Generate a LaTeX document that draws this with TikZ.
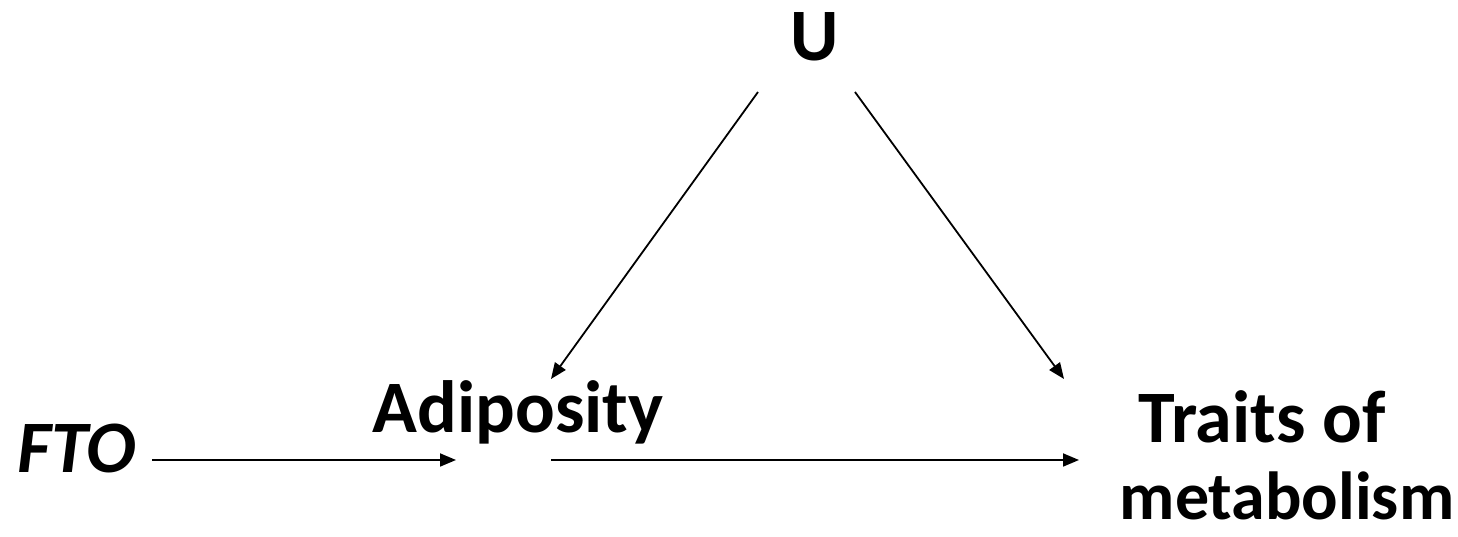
\documentclass[tikz,border=0pt]{standalone}
\usepackage{fontspec}
\setmainfont{Carlito}
\usetikzlibrary{arrows.meta}
\begin{document}
\begin{tikzpicture}[x=1pt,y=1pt,
  lbl/.style={font=\fontsize{74}{77}\selectfont\bfseries, inner sep=0pt, anchor=base, align=center},
  arr/.style={line width=1.8pt, -{Triangle[length=16pt,width=13pt]}}]
\useasboundingbox (0,0) rectangle (1458,537);
% texts (y = 537 - pixel y)
\node[lbl] (u) at (815,476) {U};
\node[lbl] (adip) at (518,104) {Adiposity};
\node[lbl] (fto) at (77,64) {\itshape FTO};
\node[lbl, anchor=base] (traits) at (1287,17) {Traits of\hspace*{50pt}\\{\fontsize{68}{77}\selectfont metabolism}};
% arrow end points
\coordinate (ftoR) at (152,77);
\coordinate (adipL) at (456,77);
\coordinate (adipR) at (551,77);
\coordinate (traitsL) at (1079,77);
\coordinate (uL) at (758,445);
\coordinate (uR) at (855,445);
\coordinate (adipT) at (551,158);
\coordinate (traitsT) at (1064,158);
% connectors
\draw[arr] (ftoR) -- (adipL);
\draw[arr] (adipR) -- (traitsL);
\draw[arr] (uL) -- (adipT);
\draw[arr] (uR) -- (traitsT);
\end{tikzpicture}
\end{document}
